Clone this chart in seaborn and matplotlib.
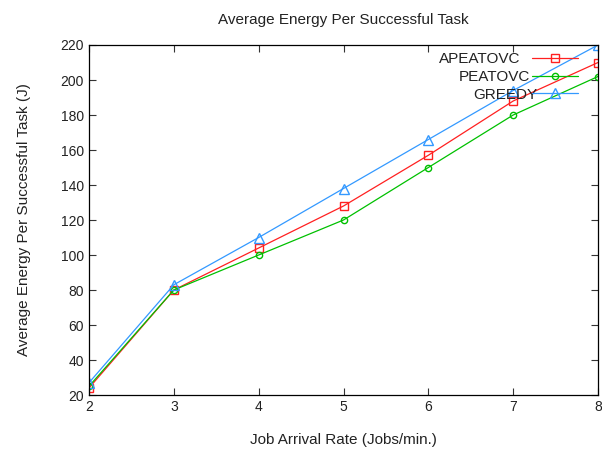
import matplotlib
matplotlib.use('Agg')
import matplotlib.pyplot as plt
import seaborn as sns
import numpy as np

# dados
taxa = [2, 3, 4, 5, 6, 7, 8]
apeatovc = [24, 80, 104, 128, 157, 188, 210]
peatovc = [25, 80, 100, 120, 150, 180, 202]
greedy = [27, 83, 110, 138, 166, 194, 220]

series = [
    ('APEATOVC', apeatovc, '#ff2020', 's', 6),
    ('PEATOVC', peatovc, '#00c000', 'o', 4.5),
    ('GREEDY', greedy, '#3399ff', '^', 6.5),
]

sns.set_style('ticks')
plt.rcParams['font.family'] = ['Liberation Sans', 'DejaVu Sans']
plt.rcParams['font.size'] = 10

fig = plt.figure(figsize=(6.02, 4.5), dpi=100)
ax = fig.add_axes([0.1478, 0.1222, 0.9934 - 0.1478, 0.9 - 0.1222])

for nome, valores, cor, marc, tam in series:
    sns.lineplot(x=taxa, y=valores, color=cor, marker=marc, markersize=tam,
                 markerfacecolor='none', markeredgecolor=cor, markeredgewidth=1,
                 linewidth=0.9, label=nome, ax=ax)

ax.set_xlim(2, 8)
ax.set_ylim(20, 220)
ax.set_xticks(range(2, 9))
ax.set_yticks(range(20, 221, 20))
ax.tick_params(direction='in', top=True, right=True, length=5, width=0.8,
               labelsize=10, colors='#333333', labelcolor='#222222')
for s in ax.spines.values():
    s.set_linewidth(0.9)
    s.set_color('black')

ax.set_title('Average Energy Per Successful Task', fontsize=11, pad=15, color='#222222')
ax.set_xlabel('Job Arrival Rate (Jobs/min.)', fontsize=11, labelpad=14, color='#222222')
ax.set_ylabel('Average Energy Per Successful Task (J)', fontsize=11, labelpad=21, color='#222222')

leg = ax.legend(loc='upper right', bbox_to_anchor=(0.979, 1.006), frameon=False,
                markerfirst=False, handlelength=3, fontsize=11,
                labelspacing=0.25, borderaxespad=0.2)
for t in leg.get_texts():
    t.set_color('#222222')

# alinhando o texto da legenda a direita
fig.canvas.draw()
larg = max(t.get_window_extent().width for t in leg.get_texts())
for t in leg.get_texts():
    w = t.get_window_extent().width
    t.set_position((larg - w, 0))

plt.savefig('out.png', dpi=100)
